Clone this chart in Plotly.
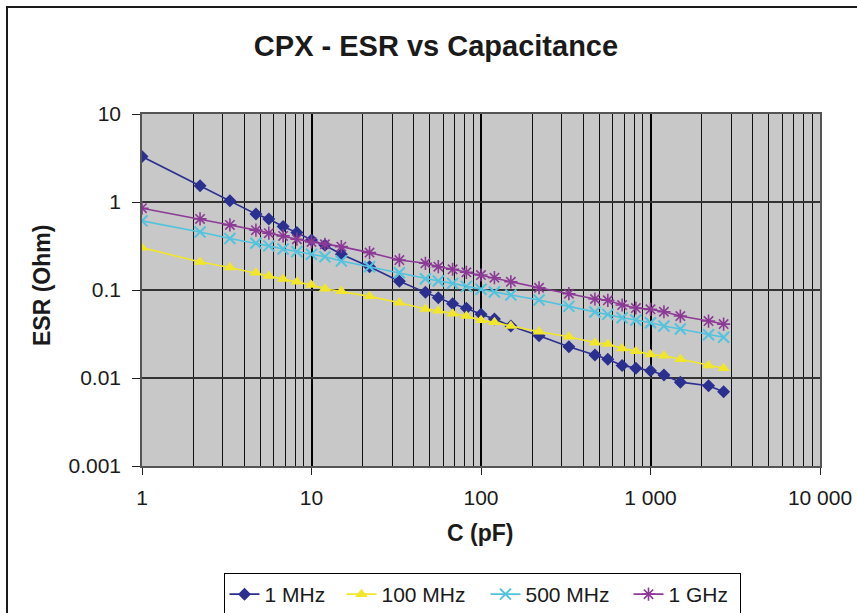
import plotly.graph_objects as go

# ---- data ----
capacitance_pf = [1, 2.2, 3.3, 4.7, 5.6, 6.8, 8.2, 10, 12, 15, 22, 33, 47, 56, 68, 82,
                  100, 120, 150, 220, 330, 470, 560, 680, 820, 1000, 1200, 1500, 2200, 2700]

esr_1mhz = [3.29, 1.53, 1.03, 0.73, 0.64, 0.526, 0.449, 0.371, 0.323, 0.255, 0.184, 0.126,
            0.094, 0.0817, 0.0698, 0.0619, 0.0529, 0.0468, 0.0389, 0.0302, 0.0226, 0.0182,
            0.0163, 0.0139, 0.0129, 0.0121, 0.0108, 0.00897, 0.00815, 0.00696]
esr_100mhz = [0.303, 0.208, 0.18, 0.157, 0.144, 0.133, 0.124, 0.114, 0.1035, 0.0966, 0.0847,
              0.0716, 0.0608, 0.0581, 0.0537, 0.0506, 0.0452, 0.0429, 0.0389, 0.0335, 0.0294,
              0.0251, 0.0243, 0.0217, 0.0202, 0.0185, 0.0179, 0.0163, 0.0139, 0.0129]
esr_500mhz = [0.61, 0.457, 0.384, 0.34, 0.317, 0.293, 0.273, 0.255, 0.239, 0.214, 0.184, 0.157,
              0.1345, 0.1265, 0.119, 0.110, 0.1018, 0.0948, 0.0877, 0.0769, 0.0651, 0.0562,
              0.0529, 0.0484, 0.0456, 0.0425, 0.0389, 0.036, 0.031, 0.029]
esr_1ghz = [0.85, 0.643, 0.549, 0.479, 0.442, 0.412, 0.378, 0.352, 0.331, 0.311, 0.266, 0.219,
            0.201, 0.184, 0.172, 0.159, 0.148, 0.138, 0.124, 0.106, 0.0908, 0.079, 0.0764,
            0.0675, 0.0624, 0.0603, 0.0566, 0.0506, 0.0444, 0.041]

series_names = ["1 MHz", "100 MHz", "500 MHz", "1 GHz"]

x_tickvals = [1, 10, 100, 1000, 10000]
x_ticktext = ["1", "10", "100", "1 000", "10 000"]
x_minorvals = [m * d for d in [1, 10, 100, 1000] for m in range(2, 10)]
y_tickvals = [0.001, 0.01, 0.1, 1, 10]
y_ticktext = ["0.001", "0.01", "0.1", "1", "10"]

FONT = "Arial, Liberation Sans, sans-serif"

fig = go.Figure()
styles = [
    dict(color="#2B2F8F", symbol="diamond", size=10, lw=0, lgw=72),
    dict(color="#F2E62A", symbol="triangle-up", size=11, lw=0, lgw=99),
    dict(color="#52C3DF", symbol="x-thin-open", size=11, lw=2, lgw=98),
    dict(color="#8C3A96", symbol="asterisk-open", size=11, lw=1.6, lgw=66),
]
for name, ys, st in zip(series_names, [esr_1mhz, esr_100mhz, esr_500mhz, esr_1ghz], styles):
    fig.add_trace(go.Scatter(
        x=capacitance_pf, y=ys, name=name, mode="lines+markers",
        line=dict(color=st["color"], width=1.6),
        marker=dict(symbol=st["symbol"], size=st["size"], color=st["color"],
                    line=dict(color=st["color"], width=st["lw"])),
        legendwidth=st["lgw"],
    ))

fig.update_layout(
    width=857, height=613,
    margin=dict(l=142, r=37, t=114, b=147, autoexpand=False),
    paper_bgcolor="white",
    plot_bgcolor="#C8C8C8",
    font=dict(family=FONT, size=21, color="#1a1a1a"),
    title=dict(text="<b>CPX - ESR vs Capacitance</b>", x=436 / 857, xanchor="center",
               y=1 - 46 / 613, yanchor="middle", yref="container",
               font=dict(family=FONT, size=29, color="#1a1a1a")),
    showlegend=True,
    legend=dict(orientation="h", xref="container", x=482 / 857, xanchor="center",
                yref="container", y=1 - 573 / 613, yanchor="top",
                bgcolor="white", bordercolor="#000000", borderwidth=1,
                font=dict(family=FONT, size=21, color="#1a1a1a"),
                itemwidth=30, tracegroupgap=0),
)

fig.update_xaxes(
    type="log", range=[0, 4], automargin=False,
    tickmode="array", tickvals=x_tickvals, ticktext=x_ticktext,
    ticks="outside", ticklen=7, tickcolor="#222", tickwidth=1,
    ticklabelstandoff=5,
    showgrid=True, gridcolor="#000000", gridwidth=2,
    minor=dict(tickmode="array", tickvals=x_minorvals, showgrid=True,
               gridcolor="#111111", gridwidth=1, ticks=""),
    showline=True, linecolor="#555555", linewidth=1.5, mirror=True,
    zeroline=False,
)
fig.update_yaxes(
    type="log", range=[-3, 1], automargin=False,
    tickmode="array", tickvals=y_tickvals, ticktext=y_ticktext,
    ticks="outside", ticklen=8, tickcolor="#222", tickwidth=1,
    ticklabelstandoff=7,
    showgrid=True, gridcolor="#333333", gridwidth=1.5,
    showline=True, linecolor="#555555", linewidth=1.5, mirror=True,
    zeroline=False,
)

# axis titles
fig.add_annotation(text="<b>C (pF)</b>", xref="paper", yref="paper",
                   x=(480 - 142) / 678, y=(466 - 533) / 352,
                   xanchor="center", yanchor="middle", showarrow=False,
                   font=dict(family=FONT, size=23, color="#1a1a1a"))
fig.add_annotation(text="<b>ESR (Ohm)</b>", xref="paper", yref="paper",
                   x=(42 - 142) / 678, y=(466 - 286) / 352, textangle=-90,
                   xanchor="center", yanchor="middle", showarrow=False,
                   font=dict(family=FONT, size=23, color="#1a1a1a"))

# outer chart border (extends past right and bottom edges like the reference)
fig.add_shape(type="rect", xref="paper", yref="paper",
              x0=(7 - 142) / 678, x1=(880 - 142) / 678,
              y0=(466 - 640) / 352, y1=(466 - 7) / 352,
              line=dict(color="#1a1a1a", width=2), fillcolor="rgba(0,0,0,0)", layer="above")

fig.write_html("out.html", config={"displayModeBar": False},
               post_script="document.body.style.margin='0px';document.body.style.overflow='hidden';")
